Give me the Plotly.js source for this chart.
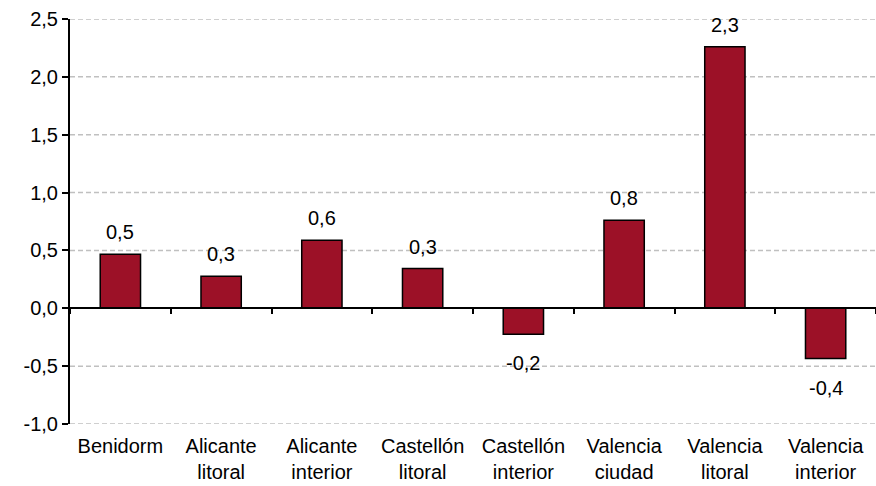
<!DOCTYPE html>
<html>
<head>
<meta charset="utf-8">
<script src="https://cdn.plot.ly/plotly-3.0.1.min.js"></script>
<style>html,body{margin:0;padding:0;background:#fff}#chart{width:876px;height:486px}</style>
</head>
<body>
<div id="chart"></div>
<script>
const categories = ["Benidorm<br>", "Alicante<br>litoral", "Alicante<br>interior", "Castellón<br>litoral", "Castellón<br>interior", "Valencia<br>ciudad", "Valencia<br>litoral", "Valencia<br>interior"];
const values = [0.467, 0.277, 0.588, 0.343, -0.225, 0.761, 2.26, -0.435];
const yTickVals = [-1.0, -0.5, 0.0, 0.5, 1.0, 1.5, 2.0, 2.5];
const yTickText = ["-1,0", "-0,5", "0,0", "0,5", "1,0", "1,5", "2,0", "2,5"];

const fmt = v => v.toFixed(1).replace('.', ',');
const FONT = "Liberation Sans, Arial, sans-serif";
const FS = 20;

const bars = {
  type: 'bar', x: categories, y: values, width: 0.4,
  marker: {color: '#9C1127', line: {color: '#000', width: 1.5}},
  hoverinfo: 'skip', showlegend: false
};
// invisible trace to draw an axis line with boundary ticks at y = 0
const zeroAxis = {
  type: 'scatter', mode: 'markers', x: categories, y: values.map(() => 0),
  xaxis: 'x2', yaxis: 'y', marker: {opacity: 0}, hoverinfo: 'skip', showlegend: false
};

const annotations = categories.map((c, i) => ({
  x: c, y: values[i], xref: 'x', yref: 'y', text: fmt(values[i]),
  showarrow: false, yanchor: 'middle', yshift: values[i] >= 0 ? 22 : -29,
  font: {family: FONT, size: FS, color: '#000'}
}));

const yMin = -1.0, yMax = 2.5;

// dashed horizontal grid lines at each y tick (drawn as shapes so the edge lines show too)
const gridShapes = yTickVals.filter(v => v !== 0).map(v => ({
  type: 'line', xref: 'paper', yref: 'y', x0: 0, x1: 1, y0: v, y1: v,
  line: {color: '#c0c0c0', width: 1.5, dash: '5px,3px'}, layer: 'below'
}));

const layout = {
  width: 876, height: 486,
  margin: {l: 70, r: 0, t: 19, b: 62},
  paper_bgcolor: '#fff', plot_bgcolor: '#fff',
  font: {family: FONT, size: FS, color: '#000'},
  xaxis: {
    type: 'category', showline: false, showgrid: false, zeroline: false,
    ticks: 'outside', ticklen: 4, tickcolor: 'rgba(0,0,0,0)',
    tickfont: {family: FONT, size: FS, color: '#000'}, fixedrange: true
  },
  xaxis2: {
    type: 'category', overlaying: 'x', anchor: 'free', position: (0 - yMin) / (yMax - yMin),
    matches: 'x', showline: true, linecolor: '#000', linewidth: 2,
    ticks: 'outside', tickson: 'boundaries', ticklen: 5, tickwidth: 2, tickcolor: '#000',
    showticklabels: false, showgrid: false, zeroline: false
  },
  yaxis: {
    range: [yMin, yMax], tickvals: yTickVals, ticktext: yTickText,
    showline: true, linecolor: '#000', linewidth: 2,
    ticks: 'outside', ticklen: 6, tickwidth: 2, tickcolor: '#000',
    showgrid: false, zeroline: false,
    tickfont: {family: FONT, size: FS, color: '#000'}, fixedrange: true
  },
  shapes: gridShapes,
  annotations: annotations
};

Plotly.newPlot('chart', [bars, zeroAxis], layout, {displayModeBar: false, staticPlot: true});
</script>
</body>
</html>
